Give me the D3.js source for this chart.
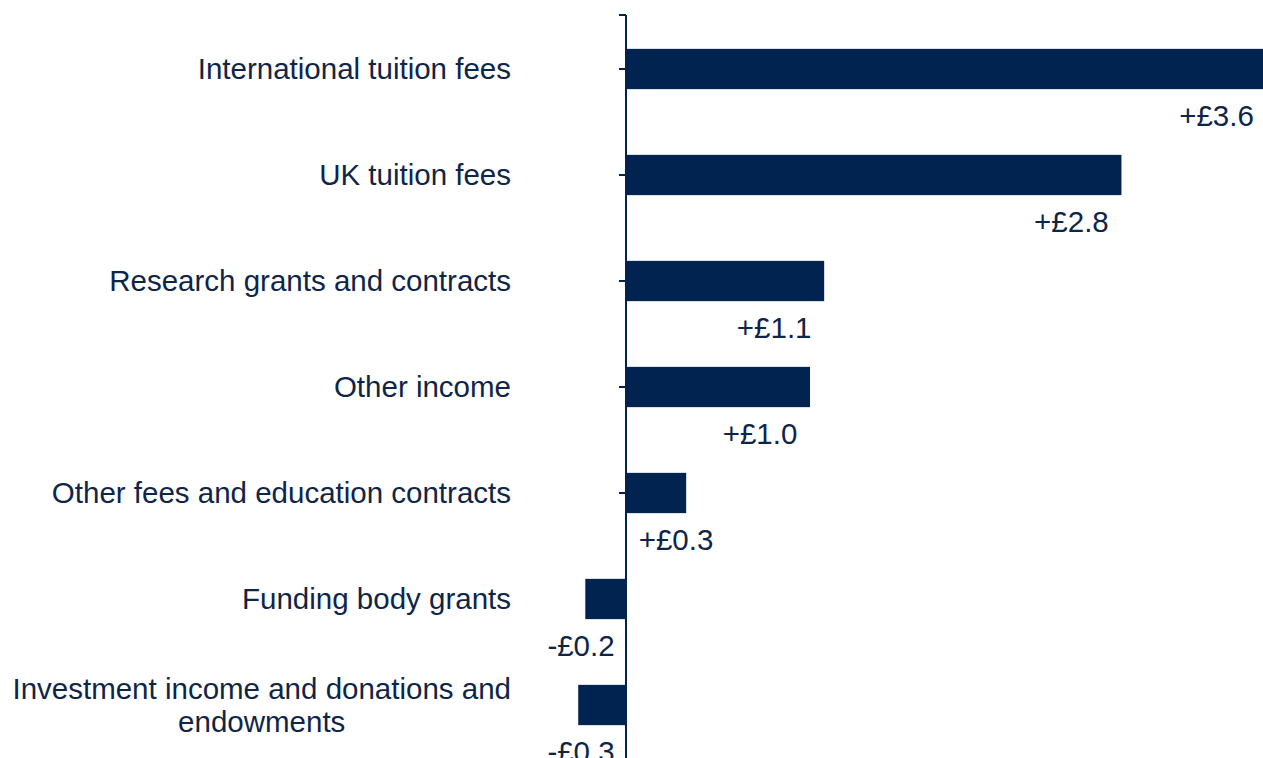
<!DOCTYPE html>
<html>
<head>
<meta charset="utf-8">
<script src="https://cdn.jsdelivr.net/npm/d3@7"></script>
<style>
  body { margin: 0; background: #fff; }
  svg { display: block; }
  text { font-family: "Liberation Sans", Arial, sans-serif; fill: #0f2548; }
</style>
</head>
<body>
<svg width="1263" height="758"></svg>
<script>
// change in income, £bn
const categories = [
  'International tuition fees',
  'UK tuition fees',
  'Research grants and contracts',
  'Other income',
  'Other fees and education contracts',
  'Funding body grants',
  'Investment income and donations and endowments'
];
const values = [3.62, 2.8, 1.12, 1.04, 0.34, -0.23, -0.27];
const valueLabels = ['+£3.6', '+£2.8', '+£1.1', '+£1.0', '+£0.3', '-£0.2', '-£0.3'];

const svg = d3.select('svg');
const width = +svg.attr('width');
const height = +svg.attr('height');
const navy = '#00234f';

const x = d3.scaleLinear()
  .domain([0, 3.6])
  .range([626, width]);

const y = d3.scaleBand()
  .domain(categories)
  .range([16, height])
  .paddingInner(0.62)
  .paddingOuter(0.31);

// bars
svg.selectAll('.bar')
  .data(values)
  .enter().append('rect')
  .attr('class', 'bar')
  .attr('x', d => Math.min(x(0), x(d)))
  .attr('y', (d, i) => y(categories[i]))
  .attr('width', d => Math.abs(x(d) - x(0)))
  .attr('height', y.bandwidth())
  .attr('fill', navy);

// vertical axis line + ticks
svg.append('line')
  .attr('x1', x(0)).attr('x2', x(0))
  .attr('y1', 15).attr('y2', height)
  .attr('stroke', navy).attr('stroke-width', 2);

const tickYs = [15].concat(categories.slice(0, 6).map(c => y(c) + y.bandwidth() / 2));
svg.selectAll('.tick')
  .data(tickYs)
  .enter().append('line')
  .attr('x1', x(0) - 7).attr('x2', x(0))
  .attr('y1', d => d).attr('y2', d => d)
  .attr('stroke', navy).attr('stroke-width', 2);

// category labels, right-aligned block, multi-line centred
const labelRight = 511;
const fontSize = 29.5;
categories.forEach((c, i) => {
  const cy = y(c) + y.bandwidth() / 2;
  const lines = c.length > 40 ? ['Investment income and donations and', 'endowments'] : [c];
  const t = svg.append('text')
    .attr('font-size', fontSize)
    .attr('text-anchor', 'middle');
  lines.forEach((ln, k) => {
    t.append('tspan')
      .attr('x', 0)
      .attr('y', cy + (k - (lines.length - 1) / 2) * 33)
      .attr('dy', '0.35em')
      .text(ln);
  });
  const w = d3.max(t.selectAll('tspan').nodes(), n => n.getComputedTextLength());
  t.selectAll('tspan').attr('x', labelRight - w / 2);
});

// value labels below bars
valueLabels.forEach((lab, i) => {
  const v = values[i];
  const cy = y(categories[i]) + y.bandwidth() / 2 + 47;
  const t = svg.append('text')
    .attr('font-size', fontSize)
    .attr('text-anchor', 'middle')
    .attr('y', cy)
    .attr('dy', '0.35em')
    .text(lab);
  const w = t.node().getComputedTextLength();
  let cx = v >= 0 ? Math.max(x(v) - 50, x(0) + 50) : x(0) - 45;
  cx = Math.min(cx, width - 5 - w / 2);
  t.attr('x', cx);
});
</script>
</body>
</html>
